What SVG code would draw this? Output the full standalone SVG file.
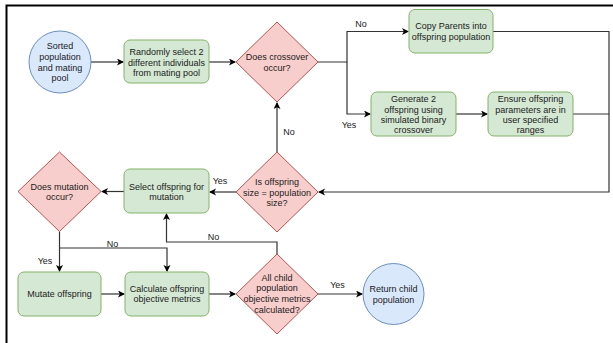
<svg xmlns="http://www.w3.org/2000/svg" width="613" height="343" viewBox="0 0 613 343">
<defs>
<style>
.g{fill:#d5e8d4;stroke:#82b366;stroke-width:1}
.r{fill:#f8cecc;stroke:#b85450;stroke-width:1}
.b{fill:#dae8fc;stroke:#6c8ebf;stroke-width:1}
text{font-family:"Liberation Sans",Arial,sans-serif;font-size:9px;fill:#1a1a1a;text-anchor:middle}
.c{fill:none;stroke:#333;stroke-width:1.2}
</style>
<marker id="a" markerWidth="8" markerHeight="8" refX="6" refY="3.5" orient="auto" markerUnits="userSpaceOnUse">
<path d="M0,0 L7,3.5 L0,7 L1.8,3.5 Z" fill="#000"/>
</marker>
</defs>
<rect width="613" height="343" fill="#fff"/>
<path d="M6.5,343 V5.5 H613" fill="none" stroke="#000" stroke-width="2"/>

<g id="connectors">
<path class="c" d="M91,62 H123" marker-end="url(#a)"/>
<path class="c" d="M209,62 H235" marker-end="url(#a)"/>
<path class="c" d="M318,62 H347 V31.5 H408" marker-end="url(#a)"/>
<path class="c" d="M347,62 V114 H370" marker-end="url(#a)"/>
<path class="c" d="M456,114 H487" marker-end="url(#a)"/>
<path class="c" d="M493,31.5 H609 V192 H319" marker-end="url(#a)"/>
<path class="c" d="M573,114 H609"/>
<path class="c" d="M277,152 V103" marker-end="url(#a)"/>
<path class="c" d="M236,192 H210" marker-end="url(#a)"/>
<path class="c" d="M124,191.5 H102" marker-end="url(#a)"/>
<path class="c" d="M59.5,231.5 V271" marker-end="url(#a)"/>
<path class="c" d="M59.5,248 H167 V271" marker-end="url(#a)"/>
<path class="c" d="M101,294 H124" marker-end="url(#a)"/>
<path class="c" d="M209,294 H235" marker-end="url(#a)"/>
<path class="c" d="M277,254 V242 H166.5 V214" marker-end="url(#a)"/>
<path class="c" d="M318,294 H362" marker-end="url(#a)"/>
<text x="361" y="27">No</text>
<text x="349" y="128">Yes</text>
<text x="289" y="135">No</text>
<text x="220" y="184">Yes</text>
<text x="112.5" y="246.5">No</text>
<text x="45" y="264">Yes</text>
<text x="213.5" y="240">No</text>
<text x="337.5" y="288">Yes</text>
</g>

<g id="sorted">
<circle class="b" cx="60" cy="62" r="31"/>
<text x="60" y="49">Sorted</text>
<text x="60" y="59.8">population</text>
<text x="60" y="70.6">and mating</text>
<text x="60" y="81.4">pool</text>
</g>

<g id="randomly">
<rect class="g" x="124" y="40" width="85" height="43" rx="6"/>
<text x="166.5" y="55">Randomly select 2</text>
<text x="166.5" y="65.6">different individuals</text>
<text x="166.5" y="76">from mating pool</text>
</g>

<g id="crossover">
<path class="r" d="M277,22 L318,62 L277,102 L236,62 Z"/>
<text x="277" y="60">Does crossover</text>
<text x="277" y="70.6">occur?</text>
</g>

<g id="copy">
<rect class="g" x="409" y="9.5" width="84" height="43.5" rx="6"/>
<text x="451" y="29.3">Copy Parents into</text>
<text x="451" y="40">offspring population</text>
</g>

<g id="generate">
<rect class="g" x="371" y="92" width="85" height="44" rx="6"/>
<text x="413.5" y="102">Generate 2</text>
<text x="413.5" y="112.6">offspring using</text>
<text x="413.5" y="123">simulated binary</text>
<text x="413.5" y="133.4">crossover</text>
</g>

<g id="ensure">
<rect class="g" x="488" y="92" width="85" height="44" rx="6"/>
<text x="530.5" y="102">Ensure offspring</text>
<text x="530.5" y="112.6">parameters are in</text>
<text x="530.5" y="123">user specified</text>
<text x="530.5" y="133.4">ranges</text>
</g>

<g id="size">
<path class="r" d="M277,152 L318,192 L277,232 L236,192 Z"/>
<text x="277" y="185">Is offspring</text>
<text x="277" y="195.6">size = population</text>
<text x="277" y="206">size?</text>
</g>

<g id="select">
<rect class="g" x="124" y="169" width="85" height="44" rx="6"/>
<text x="166.5" y="190">Select offspring for</text>
<text x="166.5" y="200.3">mutation</text>
</g>

<g id="mutation">
<path class="r" d="M59.5,152 L101,191.5 L59.5,231.5 L18,191.5 Z"/>
<text x="59.5" y="190">Does mutation</text>
<text x="59.5" y="200.3">occur?</text>
</g>

<g id="mutate">
<rect class="g" x="18" y="272" width="83" height="44" rx="6"/>
<text x="59.5" y="297.2">Mutate offspring</text>
</g>

<g id="calculate">
<rect class="g" x="125" y="272" width="84" height="44" rx="6"/>
<text x="167" y="291.5">Calculate offspring</text>
<text x="167" y="302.2">objective metrics</text>
</g>

<g id="allchild">
<path class="r" d="M277,254 L318,294 L277,334 L236,294 Z"/>
<text x="277" y="280.5">All child</text>
<text x="277" y="291.2">population</text>
<text x="277" y="302.2">objective metrics</text>
<text x="277" y="312.9">calculated?</text>
</g>

<g id="return">
<circle class="b" cx="393.5" cy="294" r="30.5"/>
<text x="393.5" y="291.9">Return child</text>
<text x="393.5" y="302.5">population</text>
</g>
</svg>
